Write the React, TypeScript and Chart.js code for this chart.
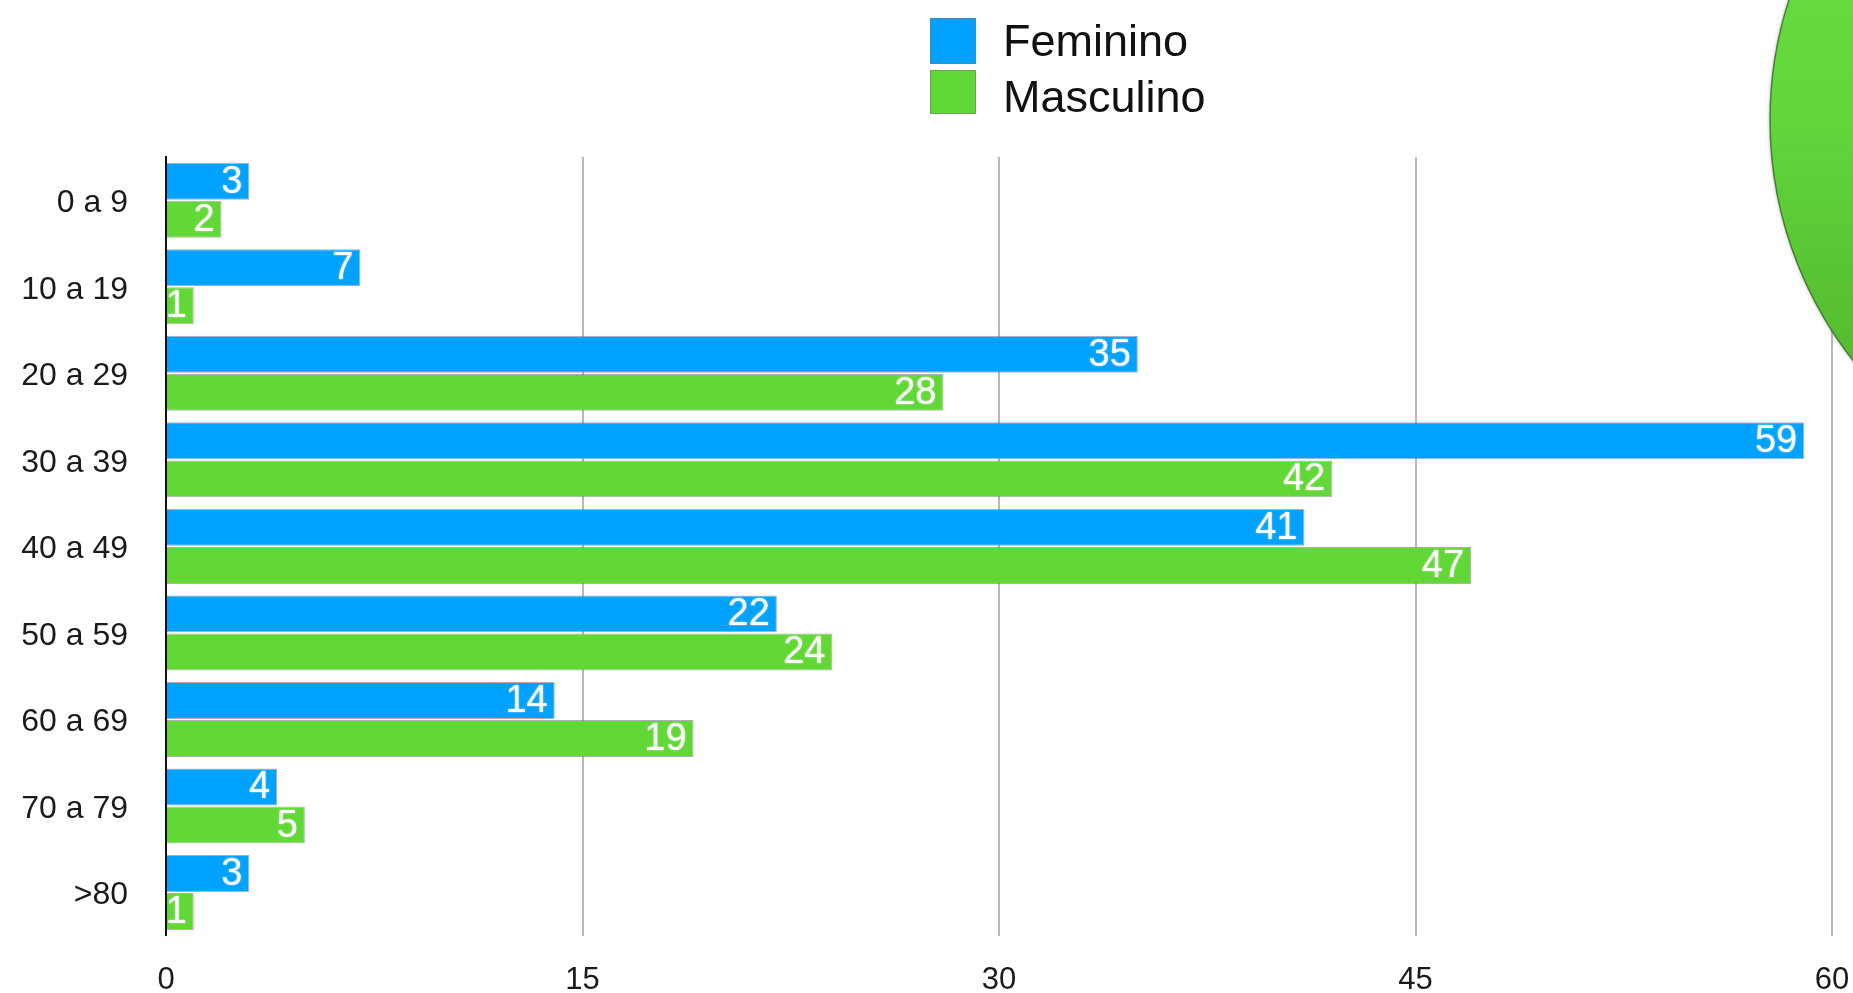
import React, { useEffect, useRef } from "react";
import { Chart, registerables } from "chart.js";

Chart.register(...registerables);

const categories = ["0 a 9", "10 a 19", "20 a 29", "30 a 39", "40 a 49", "50 a 59", "60 a 69", "70 a 79", ">80"];
const feminino = [3, 7, 35, 59, 41, 22, 14, 4, 3];
const masculino = [2, 1, 28, 42, 47, 24, 19, 5, 1];
const seriesNames = ["Feminino", "Masculino"];
const xTicks = [0, 15, 30, 45, 60];

const BLUE = "#00A2FF";
const GREEN = "#61D836";
const FONT = "'Liberation Sans', Arial, Helvetica, sans-serif";

const valueLabels = {
  id: "valueLabels",
  afterDatasetsDraw(chart: any) {
    const ctx = chart.ctx;
    ctx.save();
    ctx.font = `38px ${FONT}`;
    ctx.fillStyle = "#ffffff";
    ctx.textAlign = "right";
    ctx.textBaseline = "middle";
    ctx.shadowColor = "rgba(255,255,255,0.7)";
    ctx.shadowBlur = 2;
    chart.data.datasets.forEach((ds: any, i: number) => {
      const meta = chart.getDatasetMeta(i);
      meta.data.forEach((bar: any, j: number) => {
        ctx.fillText(String(ds.data[j]), bar.x - 7, bar.y + 1);
      });
    });
    ctx.restore();
  },
};

const legendAndDecor = {
  id: "legendAndDecor",
  afterDraw(chart: any) {
    const ctx = chart.ctx;
    ctx.save();
    // decorative green disc partly outside the frame (top right)
    const cx = 2160, cy = 120, r = 390;
    ctx.beginPath();
    ctx.arc(cx, cy, r, 0, Math.PI * 2);
    const g = ctx.createLinearGradient(0, cy - r, 0, cy + r);
    g.addColorStop(0, "#6EE547");
    g.addColorStop(0.5, "#62D63B");
    g.addColorStop(1, "#4DAA29");
    ctx.shadowColor = "rgba(0,0,0,0.35)";
    ctx.shadowBlur = 4;
    ctx.fillStyle = g;
    ctx.fill();
    ctx.shadowBlur = 0;
    ctx.lineWidth = 1.5;
    ctx.strokeStyle = "rgba(45,100,25,0.75)";
    ctx.stroke();

    // legend
    const boxes = [
      { y: 18, h: 46 },
      { y: 70, h: 44 },
    ];
    const baselines = [56, 112];
    chart.data.datasets.forEach((ds: any, i: number) => {
      ctx.fillStyle = ds.backgroundColor;
      ctx.fillRect(930, boxes[i].y, 46, boxes[i].h);
      ctx.lineWidth = 1;
      ctx.strokeStyle = "rgba(120,120,120,0.6)";
      ctx.strokeRect(930.5, boxes[i].y + 0.5, 45, boxes[i].h - 1);
      ctx.fillStyle = "#111111";
      ctx.font = `45px ${FONT}`;
      ctx.textAlign = "left";
      ctx.textBaseline = "alphabetic";
      ctx.fillText(ds.label, 1003, baselines[i]);
    });
    ctx.restore();
  },
};

export default function App() {
  const canvasRef = useRef<HTMLCanvasElement | null>(null);

  useEffect(() => {
    if (!canvasRef.current) return;
    const chart = new Chart(canvasRef.current, {
      type: "bar",
      data: {
        labels: categories,
        datasets: [
          {
            label: seriesNames[0],
            data: feminino,
            backgroundColor: BLUE,
            borderColor: "rgba(110,110,110,0.55)",
            borderWidth: 1,
            categoryPercentage: 0.88,
            barPercentage: 0.97,
          },
          {
            label: seriesNames[1],
            data: masculino,
            backgroundColor: GREEN,
            borderColor: "rgba(110,110,110,0.55)",
            borderWidth: 1,
            categoryPercentage: 0.88,
            barPercentage: 0.97,
          },
        ],
      },
      options: {
        indexAxis: "y",
        animation: false,
        responsive: false,
        devicePixelRatio: 1,
        layout: { padding: { left: 0, top: 157, right: 21, bottom: 0 } },
        plugins: {
          legend: { display: false },
          tooltip: { enabled: false },
        },
        scales: {
          x: {
            type: "linear",
            min: 0,
            max: 60,
            afterBuildTicks: (scale: any) => {
              scale.ticks = xTicks.map((v) => ({ value: v }));
            },
            afterFit: (scale: any) => {
              scale.height = 55;
              scale.paddingRight = 0;
              scale.paddingLeft = 0;
            },
            ticks: {
              color: "#1a1a1a",
              font: { family: FONT, size: 31 },
              padding: 26,
              maxRotation: 0,
            },
            grid: {
              drawTicks: false,
              lineWidth: 2,
              color: (c: any) => (c.tick && c.tick.value === 0 ? "rgba(0,0,0,0)" : "#b9b9b9"),
            },
            border: { display: false },
          },
          y: {
            type: "category",
            afterFit: (scale: any) => {
              scale.width = 166;
            },
            ticks: {
              color: "#1a1a1a",
              font: { family: FONT, size: 32 },
              padding: 38,
              labelOffset: 3,
            },
            grid: { display: false, drawTicks: false },
            border: { display: true, color: "#111111", width: 2 },
          },
        },
      },
      plugins: [valueLabels, legendAndDecor],
    } as any);
    return () => chart.destroy();
  }, []);

  return (
    <div
      style={{
        position: "fixed",
        left: 0,
        top: 0,
        width: 1853,
        height: 993,
        overflow: "hidden",
        background: "#ffffff",
      }}
    >
      <canvas ref={canvasRef} width={1853} height={993} style={{ display: "block", width: 1853, height: 993 }} />
    </div>
  );
}
